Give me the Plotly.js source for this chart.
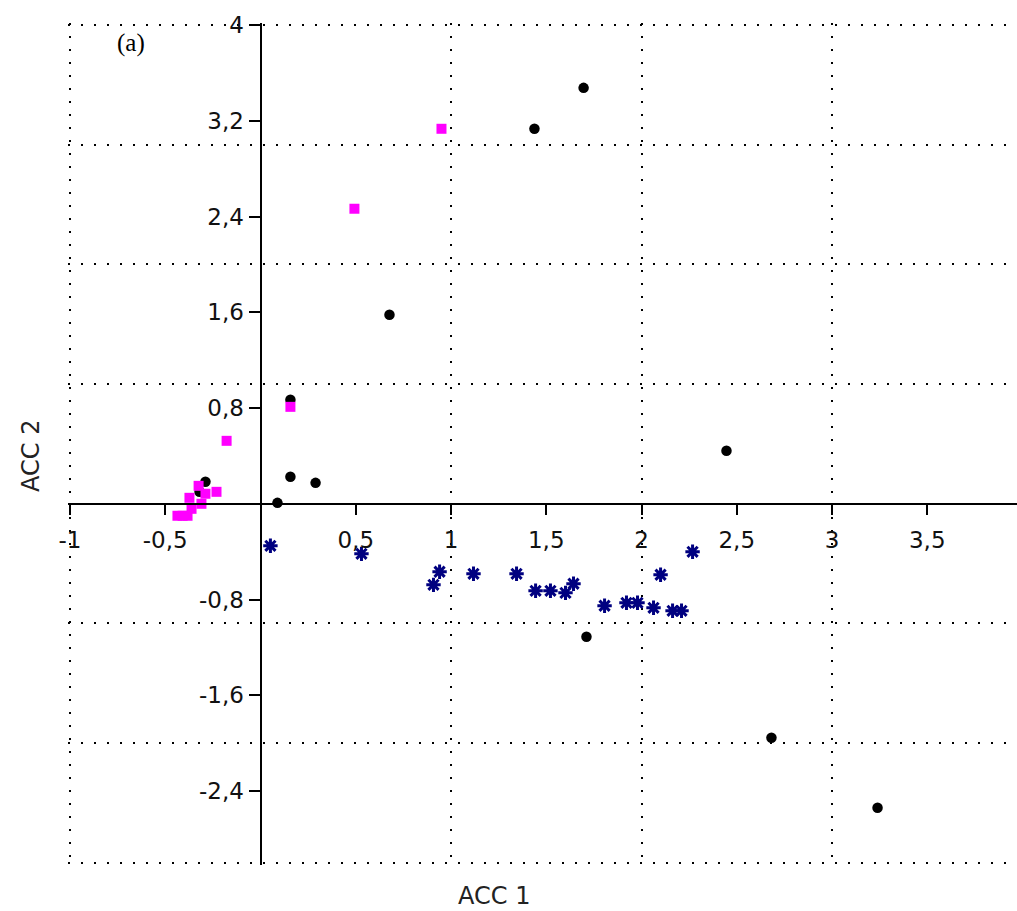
<!DOCTYPE html>
<html>
<head>
<meta charset="utf-8">
<script src="https://cdn.plot.ly/plotly-3.0.1.min.js"></script>
<style>html,body{margin:0;padding:0;background:#fff;}#chart{width:1017px;height:911px;}</style>
</head>
<body>
<div id="chart"></div>
<script>
// Black circles
const blackX = [1.696, 1.438, 0.677, 0.157, 2.446, 0.157, 0.289, 0.089, -0.289, -0.320, 1.711, 2.682, 3.239];
const blackY = [3.475, 3.133, 1.579, 0.869, 0.443, 0.226, 0.175, 0.008, 0.184, 0.100, -1.111, -1.955, -2.540];
// Magenta squares
const pinkX = [0.950, 0.493, 0.157, -0.178, -0.325, -0.231, -0.289, -0.373, -0.310, -0.362, -0.409, -0.436, -0.383];
const pinkY = [3.133, 2.465, 0.810, 0.526, 0.150, 0.100, 0.084, 0.050, 0.000, -0.042, -0.100, -0.100, -0.100];
// Navy asterisks
const starX = [0.052, 0.530, 0.940, 0.908, 1.118, 1.344, 1.444, 1.522, 1.601, 1.643, 1.806, 1.921, 1.979, 2.063, 2.100, 2.163, 2.210, 2.268];
const starY = [-0.351, -0.418, -0.568, -0.677, -0.585, -0.585, -0.727, -0.727, -0.744, -0.668, -0.852, -0.827, -0.827, -0.869, -0.593, -0.894, -0.894, -0.401];
// Tick values
const xTickVals = [-1, -0.5, 0.5, 1, 1.5, 2, 2.5, 3, 3.5];
const yTickVals = [4, 3.2, 2.4, 1.6, 0.8, -0.8, -1.6, -2.4];
// ranges padded ~2px so the edge grid lines at -1, 4 and -3 are drawn
const xRange = [-1.0105, 3.971];
const yRange = [-3.0176, 4.0167];

const fmt = v => String(v).replace('.', ',');

const traces = [
  {x: blackX, y: blackY, type: 'scatter', mode: 'markers',
   marker: {symbol: 'circle', size: 10.5, color: '#000000'}},
  {x: pinkX, y: pinkY, type: 'scatter', mode: 'markers',
   marker: {symbol: 'square', size: 10, color: '#FF00FF'}},
  {x: starX, y: starY, type: 'scatter', mode: 'markers',
   marker: {symbol: 'asterisk-open', size: 12, color: '#000080', line: {color: '#000080', width: 3}}},
  {x: [], y: [], type: 'scatter', mode: 'markers', xaxis: 'x2', yaxis: 'y2', hoverinfo: 'skip'}
];

const tickFont = {family: 'DejaVu Sans', size: 23, color: '#111111'};
const gridStyle = {showgrid: true, gridcolor: '#000000', gridwidth: 2, griddash: '2px,11px',
                   zeroline: false, showline: false, ticks: '', showticklabels: false};

const L = 68, T = 23, B = 46, W = 1017 - L, H = 911 - T - B;

const layout = {
  width: 1017, height: 911,
  margin: {l: L, r: 0, t: T, b: B, pad: 0},
  paper_bgcolor: '#ffffff', plot_bgcolor: '#ffffff',
  showlegend: false,
  xaxis: Object.assign({range: xRange, dtick: 1, tick0: 0}, gridStyle),
  yaxis: Object.assign({range: yRange, dtick: 1, tick0: 0}, gridStyle),
  xaxis2: {range: xRange, overlaying: 'x', anchor: 'free', position: (0 - yRange[0]) / (yRange[1] - yRange[0]),
           showgrid: false, zeroline: false, showline: true, linecolor: '#000000', linewidth: 2.5,
           ticks: 'outside', ticklen: 10, tickwidth: 2, tickcolor: '#000000', ticklabelstandoff: 5,
           tickmode: 'array', tickvals: xTickVals, ticktext: xTickVals.map(fmt), tickfont: tickFont},
  yaxis2: {range: yRange, overlaying: 'y', anchor: 'free', position: (0 - xRange[0]) / (xRange[1] - xRange[0]),
           showgrid: false, zeroline: false, showline: true, linecolor: '#000000', linewidth: 2.5,
           ticks: 'outside', ticklen: 11, tickwidth: 2, tickcolor: '#000000',
           tickmode: 'array', tickvals: yTickVals, ticktext: yTickVals.map(fmt), tickfont: tickFont},
  annotations: [
    {text: 'ACC 1', xref: 'paper', yref: 'paper', x: (494 - L) / W, y: 0, yshift: -31,
     xanchor: 'center', yanchor: 'middle', showarrow: false, borderpad: 0,
     font: {family: 'DejaVu Sans', size: 24, color: '#222222'}},
    {text: 'ACC 2', xref: 'paper', yref: 'paper', x: 0, xshift: -37, y: (T + H - 456) / H,
     xanchor: 'center', yanchor: 'middle', textangle: -90, showarrow: false, borderpad: 0,
     font: {family: 'DejaVu Sans', size: 24, color: '#222222'}},
    {text: '(a)', xref: 'paper', yref: 'paper', x: (131 - L) / W, y: (T + H - 43) / H,
     xanchor: 'center', yanchor: 'middle', showarrow: false,
     font: {family: 'Liberation Serif', size: 25, color: '#000000'}}
  ]
};

Plotly.newPlot('chart', traces, layout, {staticPlot: true, displayModeBar: false});
</script>
</body>
</html>
